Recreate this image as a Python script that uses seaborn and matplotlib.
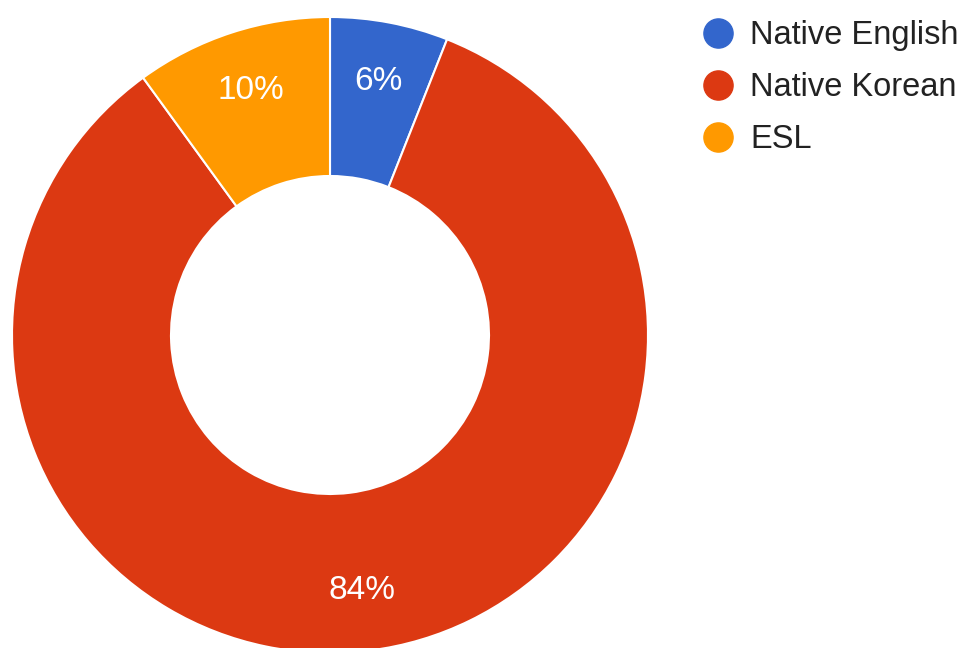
import seaborn as sns
import matplotlib.pyplot as plt
from matplotlib.lines import Line2D

# Dados
categorias = ["Native English", "Native Korean", "ESL"]
valores = [6, 84, 10]
cores = ["#3366CC", "#DC3912", "#FF9900"]

sns.set_theme(style="white")
plt.rcParams["font.family"] = ["Liberation Sans", "DejaVu Sans"]
paleta = sns.color_palette(cores)

fig = plt.figure(figsize=(9.68, 6.48), dpi=100)
ax = fig.add_axes([12 / 968, -5 / 648, 636 / 968, 636 / 648])

wedges, textos, autotextos = ax.pie(
    valores,
    colors=paleta,
    startangle=90,
    counterclock=False,
    radius=1,
    autopct="%1.0f%%",
    pctdistance=0.81,
    wedgeprops=dict(width=0.5, edgecolor="white", linewidth=1.5),
    textprops=dict(color="white", fontsize=24),
)
ax.set_xlim(-1.0, 1.0)
ax.set_ylim(-1.0, 1.0)
ax.set_aspect("equal")
ax.axis("off")

# Legenda com marcadores circulares
handles = [
    Line2D([0], [0], marker="o", linestyle="", markersize=21,
           markerfacecolor=c, markeredgecolor=c)
    for c in paleta
]
fig.legend(
    handles,
    categorias,
    loc="upper left",
    bbox_to_anchor=(689 / 968, 1 - 7 / 648),
    frameon=False,
    fontsize=23.5,
    labelspacing=0.65,
    handletextpad=0.48,
    handlelength=1.0,
    borderaxespad=0,
    labelcolor="#222222",
)

plt.savefig("out.png", dpi=100)
